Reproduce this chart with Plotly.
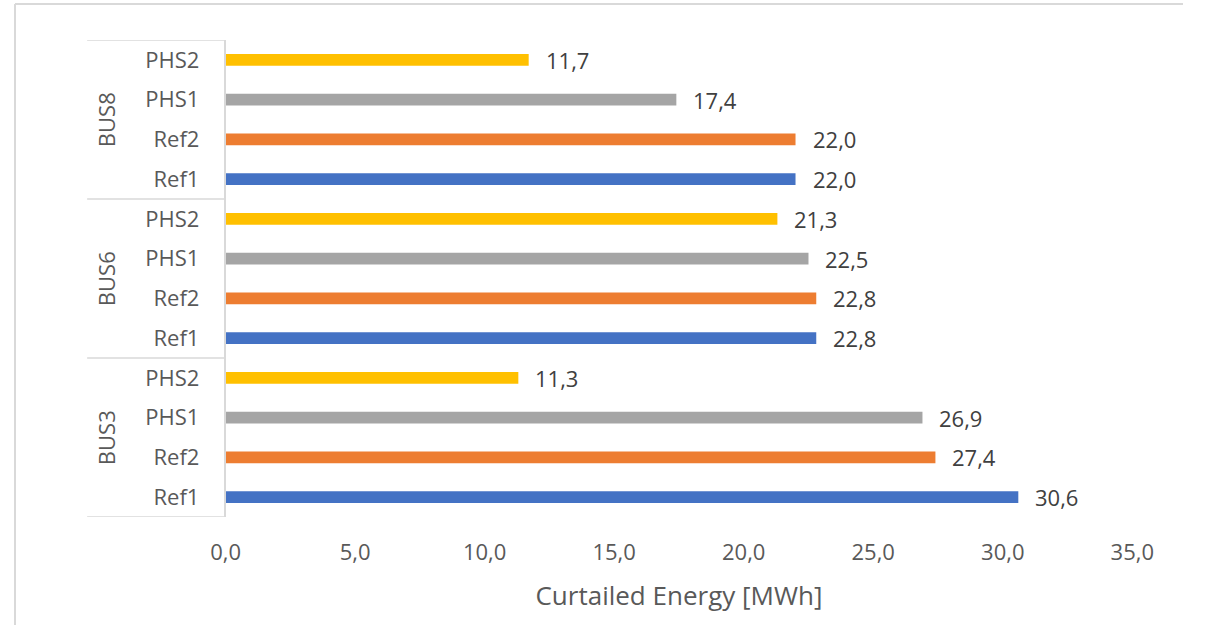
import plotly.graph_objects as go

# Curtailed energy per bus and scenario
groups = ["BUS3", "BUS6", "BUS8"]
scenarios = ["Ref1", "Ref2", "PHS1", "PHS2"]
bus3_values = [30.6, 27.4, 26.9, 11.3]
bus6_values = [22.8, 22.8, 22.5, 21.3]
bus8_values = [22.0, 22.0, 17.4, 11.7]
x_ticks = [0, 5, 10, 15, 20, 25, 30, 35]

scenario_colors = {"Ref1": "#4472C4", "Ref2": "#ED7D31", "PHS1": "#A5A5A5", "PHS2": "#FFC000"}

W, H = 1205, 625
# paper area starts at the chart frame (left 7 px, top 4 px)
ML, MT = 7, 4
paper_w, paper_h = W - ML, H - MT
# plot area in pixels
PX0, PX1, PY0, PY1 = 223, 1153, 40, 517

font_family = "Open Sans"
label_grey = "#595959"
value_grey = "#404040"
line_grey = "#D9D9D9"


def px_to_paper_x(px):
    return (px - ML) / paper_w


def px_to_paper_y(py):
    return (H - py) / paper_h


values, positions, ticktext, colors = [], [], [], []
for g_idx, vals in enumerate([bus3_values, bus6_values, bus8_values]):
    for s_idx, (scen, v) in enumerate(zip(scenarios, vals)):
        positions.append(g_idx * len(scenarios) + s_idx)
        values.append(v)
        ticktext.append(scen)
        colors.append(scenario_colors[scen])

n_rows = len(positions)

fig = go.Figure(
    go.Bar(
        x=values,
        y=positions,
        orientation="h",
        width=0.3,
        marker=dict(color=colors, line=dict(width=0)),
        hoverinfo="skip",
    )
)

# value labels to the right of each bar
annotations = []
for v, p in zip(values, positions):
    annotations.append(dict(
        x=v, y=p, xref="x", yref="y",
        text=f"{v:.1f}".replace(".", ","),
        showarrow=False, xanchor="left", yanchor="middle", xshift=15,
        font=dict(family=font_family, size=22, color=value_grey),
    ))

# group labels, rotated
for g_idx, g in enumerate(groups):
    center = g_idx * len(scenarios) + (len(scenarios) - 1) / 2
    annotations.append(dict(
        x=px_to_paper_x(100), y=center, xref="paper", yref="y",
        text=g, textangle=-90, showarrow=False,
        xanchor="center", yanchor="middle",
        font=dict(family=font_family, size=22, color=label_grey),
    ))

shapes = []
# separators between groups in the category label area
for k in range(len(groups) + 1):
    yb = k * len(scenarios) - 0.5
    shapes.append(dict(
        type="line", xref="paper", yref="y",
        x0=px_to_paper_x(81), x1=px_to_paper_x(PX0), y0=yb, y1=yb,
        line=dict(color=line_grey, width=1.5),
    ))

# chart frame along the left and top edges of the paper area
shapes.append(dict(
    type="line", xref="paper", yref="paper",
    x0=0, x1=0, y0=0, y1=1,
    line=dict(color=line_grey, width=2),
))
shapes.append(dict(
    type="line", xref="paper", yref="paper",
    x0=0, x1=1, y0=1, y1=1,
    line=dict(color=line_grey, width=2),
))

fig.update_layout(
    width=W, height=H,
    margin=dict(l=ML, r=0, t=MT, b=0, pad=0),
    paper_bgcolor="white", plot_bgcolor="white",
    separators=",.",
    showlegend=False,
    font=dict(family=font_family, color=label_grey),
    annotations=annotations,
    shapes=shapes,
    xaxis=dict(
        domain=[px_to_paper_x(PX0), px_to_paper_x(PX1)],
        range=[0, 35],
        tickvals=x_ticks,
        tickformat=".1f",
        showgrid=False, zeroline=False, showline=False,
        ticks="", ticklabelstandoff=20,
        tickfont=dict(family=font_family, size=22, color=label_grey),
        title=dict(text="Curtailed Energy [MWh]", standoff=21,
                   font=dict(family=font_family, size=26, color=label_grey)),
        fixedrange=True,
    ),
    yaxis=dict(
        domain=[px_to_paper_y(PY1), px_to_paper_y(PY0)],
        range=[-0.5, n_rows - 0.5],
        tickmode="array", tickvals=positions, ticktext=ticktext,
        showgrid=False, zeroline=False,
        showline=True, linecolor=line_grey, linewidth=1.5,
        ticks="", ticklabelstandoff=20,
        tickfont=dict(family=font_family, size=22, color=label_grey),
        fixedrange=True,
    ),
)

fig.write_html("out.html")
